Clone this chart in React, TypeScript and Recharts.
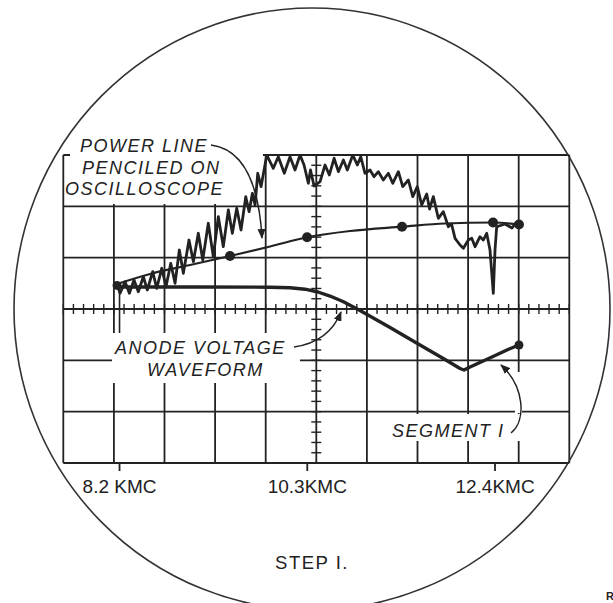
import React from 'react';
import { LineChart, Line, XAxis, YAxis, CartesianGrid } from 'recharts';

const INK = '#222';
const FONT = '"Liberation Sans", Arial, sans-serif';

// frequency axis (KMC) and screen divisions
const xDomain: [number, number] = [7.571, 13.231];
const yDomain: [number, number] = [0, 6];
const tickValues = [8.2, 10.3, 12.4];
const tickLabels = ['8.2 KMC', '10.3KMC', '12.4KMC'];

// swept power trace seen on the scope
const powerTrace = [
  { f: 8.169, v: 3.501 }, { f: 8.206, v: 3.306 }, { f: 8.262, v: 3.532 }, { f: 8.31, v: 3.306 },
  { f: 8.362, v: 3.565 }, { f: 8.41, v: 3.337 }, { f: 8.466, v: 3.629 }, { f: 8.511, v: 3.37 },
  { f: 8.571, v: 3.727 }, { f: 8.616, v: 3.403 }, { f: 8.672, v: 3.793 }, { f: 8.72, v: 3.434 },
  { f: 8.773, v: 3.89 }, { f: 8.821, v: 3.501 }, { f: 8.869, v: 4.149 }, { f: 8.914, v: 3.696 },
  { f: 8.977, v: 4.344 }, { f: 9.026, v: 3.922 }, { f: 9.081, v: 4.475 }, { f: 9.131, v: 3.955 },
  { f: 9.193, v: 4.67 }, { f: 9.249, v: 4.019 }, { f: 9.305, v: 4.798 }, { f: 9.361, v: 4.214 },
  { f: 9.417, v: 4.929 }, { f: 9.462, v: 4.475 }, { f: 9.511, v: 4.962 }, { f: 9.559, v: 4.539 },
  { f: 9.612, v: 5.188 }, { f: 9.649, v: 4.896 }, { f: 9.686, v: 5.254 }, { f: 9.716, v: 5.026 },
  { f: 9.746, v: 5.644 }, { f: 9.783, v: 5.383 }, { f: 9.847, v: 6.0 }, { f: 9.92, v: 5.741 },
  { f: 9.976, v: 5.967 }, { f: 10.043, v: 5.644 }, { f: 10.107, v: 5.967 }, { f: 10.163, v: 5.708 },
  { f: 10.219, v: 6.0 }, { f: 10.264, v: 5.805 }, { f: 10.312, v: 5.449 }, { f: 10.336, v: 5.708 },
  { f: 10.376, v: 5.396 }, { f: 10.443, v: 5.48 }, { f: 10.499, v: 5.805 }, { f: 10.547, v: 5.611 },
  { f: 10.6, v: 5.936 }, { f: 10.648, v: 5.675 }, { f: 10.704, v: 5.903 }, { f: 10.748, v: 5.708 },
  { f: 10.809, v: 6.0 }, { f: 10.86, v: 5.805 }, { f: 10.898, v: 5.967 }, { f: 10.946, v: 5.644 },
  { f: 11.002, v: 5.708 }, { f: 11.047, v: 5.577 }, { f: 11.095, v: 5.675 }, { f: 11.151, v: 5.513 },
  { f: 11.207, v: 5.644 }, { f: 11.256, v: 5.449 }, { f: 11.319, v: 5.675 }, { f: 11.368, v: 5.383 },
  { f: 11.431, v: 5.513 }, { f: 11.48, v: 5.188 }, { f: 11.531, v: 5.383 }, { f: 11.58, v: 5.026 },
  { f: 11.636, v: 5.24 }, { f: 11.668, v: 4.948 }, { f: 11.71, v: 5.188 }, { f: 11.766, v: 4.767 },
  { f: 11.822, v: 4.896 }, { f: 11.878, v: 4.603 }, { f: 11.914, v: 4.656 }, { f: 11.953, v: 4.377 },
  { f: 12.009, v: 4.247 }, { f: 12.046, v: 4.183 }, { f: 12.102, v: 4.344 }, { f: 12.14, v: 4.377 },
  { f: 12.177, v: 4.214 }, { f: 12.232, v: 4.409 }, { f: 12.269, v: 4.344 }, { f: 12.307, v: 4.475 },
  { f: 12.344, v: 4.149 }, { f: 12.381, v: 3.306 }, { f: 12.4, v: 4.149 }, { f: 12.419, v: 4.603 },
  { f: 12.512, v: 4.656 }, { f: 12.59, v: 4.578 }, { f: 12.623, v: 4.656 }, { f: 12.668, v: 4.636 },
];

// power line pencilled on the screen
const powerLine = [
  { f: 8.172, v: 3.487 }, { f: 8.541, v: 3.682 }, { f: 8.989, v: 3.857 }, { f: 9.436, v: 4.033 },
  { f: 9.884, v: 4.218 }, { f: 10.298, v: 4.397 }, { f: 10.779, v: 4.52 }, { f: 11.36, v: 4.603 },
  { f: 11.841, v: 4.666 }, { f: 12.378, v: 4.685 }, { f: 12.668, v: 4.646 },
];
const powerDots = [
  { f: 9.436, v: 4.033 }, { f: 10.298, v: 4.397 }, { f: 11.36, v: 4.603 },
  { f: 12.378, v: 4.685 }, { f: 12.668, v: 4.646 },
];

const anodeWave = [
  { f: 8.161, v: 3.429 }, { f: 9.1, v: 3.429 }, { f: 9.884, v: 3.425 }, { f: 10.107, v: 3.413 },
  { f: 10.275, v: 3.386 }, { f: 10.42, v: 3.331 }, { f: 10.554, v: 3.253 }, { f: 10.699, v: 3.146 },
  { f: 10.89, v: 2.971 }, { f: 11.226, v: 2.64 }, { f: 11.561, v: 2.299 }, { f: 11.841, v: 2.016 },
  { f: 12.009, v: 1.841 }, { f: 12.054, v: 1.812 }, { f: 12.121, v: 1.87 }, { f: 12.378, v: 2.075 },
  { f: 12.545, v: 2.211 }, { f: 12.668, v: 2.299 },
];
const endDots = [{ f: 8.172, v: 3.46 }, { f: 12.668, v: 2.299 }];
const startMarker = [{ f: 8.2, v: 2.532 }, { f: 8.2, v: 3.331 }];

// plot box on the page
const PLOT = { left: 63.3, top: 155, width: 506, height: 308 };
const vPoints = Array.from({ length: 11 }, (_, i) => PLOT.left + (i * PLOT.width) / 10);
const hPoints = Array.from({ length: 7 }, (_, i) => PLOT.top + (i * PLOT.height) / 6);
const midX = PLOT.left + PLOT.width / 2;
const midY = PLOT.top + PLOT.height / 2;
const xMinor = Array.from({ length: 51 }, (_, i) => PLOT.left + (i * PLOT.width) / 50);
const yMinor = Array.from({ length: 31 }, (_, i) => PLOT.top + (i * PLOT.height) / 30);

const labelStyle = { fontFamily: FONT, fontStyle: 'italic', fontSize: 18, letterSpacing: 1.5, fill: INK } as const;

function Overlay() {
  return (
    <svg width={613} height={603} style={{ position: 'absolute', left: 0, top: 0, pointerEvents: 'none' }}>
      <defs>
        <marker id="ah" markerUnits="userSpaceOnUse" markerWidth={10} markerHeight={8} refX={9} refY={4} orient="auto">
          <path d="M0,0 L10,4 L0,8 z" fill={INK} />
        </marker>
      </defs>
      {/* white patches behind the lettering */}
      <rect x={70} y={146} width={170} height={58} fill="#fff" />
      <rect x={240} y={146} width={23} height={22} fill="#fff" />
      <rect x={112} y={333} width={188} height={50} fill="#fff" />
      <rect x={386} y={414} width={144} height={27} fill="#fff" />
      <rect x={515} y={372} width={7} height={41} fill="#fff" />

      <ellipse cx={312} cy={309} rx={298} ry={301} fill="none" stroke="#333" strokeWidth={1.6} />

      {xMinor.map((x, i) => (
        <line key={'x' + i} x1={x} x2={x} y1={midY - 5} y2={midY + 5} stroke={INK} strokeWidth={1.4} />
      ))}
      {yMinor.map((y, i) => (
        <line key={'y' + i} x1={midX - 5} x2={midX + 5} y1={y} y2={y} stroke={INK} strokeWidth={1.4} />
      ))}

      <path d="M 211 145 Q 257 151 262 238" fill="none" stroke={INK} strokeWidth={1.5} markerEnd="url(#ah)" />
      <path d="M 294 347 Q 329 342 341 312" fill="none" stroke={INK} strokeWidth={1.5} markerEnd="url(#ah)" />
      <path d="M 511 433 C 527 420 524 386 501 365" fill="none" stroke={INK} strokeWidth={1.5} markerEnd="url(#ah)" />

      <text x={80} y={152} {...labelStyle}>POWER LINE</text>
      <text x={82} y={173.5} {...labelStyle}>PENCILED ON</text>
      <text x={65} y={195} {...labelStyle}>OSCILLOSCOPE</text>
      <text x={115} y={354} {...labelStyle}>ANODE VOLTAGE</text>
      <text x={147} y={376} {...labelStyle}>WAVEFORM</text>
      <text x={392} y={437} {...labelStyle}>SEGMENT I</text>
      <text x={312} y={569} textAnchor="middle" fontFamily={FONT} fontSize={18.5} letterSpacing={1.5} fill={INK}>
        STEP I.
      </text>
      <text x={606} y={600} fontFamily={FONT} fontSize={11} fontWeight="bold" fill={INK}>R</text>
    </svg>
  );
}

export default function App() {
  return (
    <div style={{ position: 'absolute', left: 0, top: 0, width: 613, height: 603, background: '#fff' }}>
      <LineChart width={613} height={603} margin={{ top: 155, right: 43.7, bottom: 110, left: 63.3 }}>
        <CartesianGrid stroke={INK} strokeWidth={1.8} verticalPoints={vPoints} horizontalPoints={hPoints} />
        <XAxis
          dataKey="f"
          type="number"
          domain={xDomain}
          allowDataOverflow
          ticks={tickValues}
          interval={0}
          tickFormatter={(v: number) => tickLabels[tickValues.indexOf(v)] ?? ''}
          axisLine={false}
          tickLine={{ stroke: INK, strokeWidth: 1.8 }}
          tickSize={8}
          tickMargin={9}
          height={30}
          tick={{ fill: INK, fontSize: 19, fontFamily: FONT }}
        />
        <YAxis type="number" domain={yDomain} allowDataOverflow hide />
        <Line data={startMarker} dataKey="v" type="linear" stroke={INK} strokeWidth={1.6} dot={false} activeDot={false} isAnimationActive={false} />
        <Line data={powerTrace} dataKey="v" type="linear" stroke={INK} strokeWidth={2.8} strokeLinejoin="round" dot={false} activeDot={false} isAnimationActive={false} />
        <Line data={powerLine} dataKey="v" type="monotone" stroke={INK} strokeWidth={2.2} dot={false} activeDot={false} isAnimationActive={false} />
        <Line data={powerDots} dataKey="v" stroke="none" dot={{ r: 5, fill: INK, stroke: INK, strokeWidth: 0 }} activeDot={false} isAnimationActive={false} />
        <Line data={anodeWave} dataKey="v" type="linear" stroke={INK} strokeWidth={3.4} strokeLinejoin="round" dot={false} activeDot={false} isAnimationActive={false} />
        <Line data={endDots} dataKey="v" stroke="none" dot={{ r: 4.5, fill: INK, stroke: INK, strokeWidth: 0 }} activeDot={false} isAnimationActive={false} />
      </LineChart>
      <Overlay />
    </div>
  );
}
